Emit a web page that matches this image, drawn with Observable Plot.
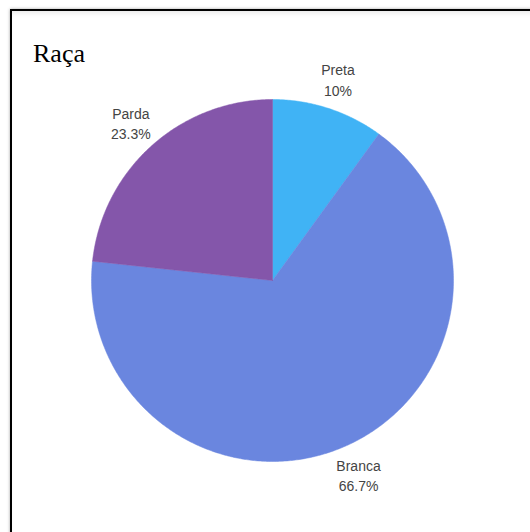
<!DOCTYPE html>
<html>
<head>
<meta charset="utf-8">
<script src="https://cdn.jsdelivr.net/npm/d3@7"></script>
<script src="https://cdn.jsdelivr.net/npm/@observablehq/plot@0.6"></script>
<style>
  html, body { margin: 0; padding: 0; background: #fff; width: 530px; height: 532px; overflow: hidden; }
  #frame { position: absolute; left: 10px; top: 9px; width: 700px; height: 700px;
           border-top: 2px solid #000; border-left: 2px solid #000;
           box-shadow: 0 0 3px rgba(0,0,0,0.35), inset 0 5px 6px -4px rgba(0,0,0,0.12); }
  #title { position: absolute; left: 33px; top: 41px; font-family: "Liberation Serif", "DejaVu Serif", serif;
           font-size: 26px; color: #000; line-height: 1; }
  #chart { position: absolute; left: 0; top: 0; }
</style>
</head>
<body>
<div id="frame"></div>
<div id="chart"></div>
<div id="title">Raça</div>
<script>
// Data
const categories = ["Preta", "Branca", "Parda"];
const values = [10, 66.7, 23.3];
const labels = ["10%", "66.7%", "23.3%"];
const colors = ["#40b3f5", "#6a86df", "#8456aa"];

// Geometry derived from the data (pie slices, clockwise from 12 o'clock)
const radius = 181;
const labelRadius = 212;
const total = d3.sum(values);
const slicePoints = [];
const labelRows = [];
let start = 0;
categories.forEach((name, i) => {
  const a0 = start, a1 = start + values[i] / total * 2 * Math.PI;
  slicePoints.push({name, x: 0, y: 0});
  const n = Math.max(2, Math.ceil((a1 - a0) / (Math.PI / 360)));
  for (let k = 0; k <= n; k++) {
    const a = a0 + (a1 - a0) * k / n;
    slicePoints.push({name, x: radius * Math.sin(a), y: radius * Math.cos(a)});
  }
  slicePoints.push({name, x: 0, y: 0});
  const am = (a0 + a1) / 2;
  labelRows.push({name, text: name + "\n" + labels[i], x: labelRadius * Math.sin(am), y: labelRadius * Math.cos(am)});
  start = a1;
});

const chart = Plot.plot({
  width: 530,
  height: 532,
  margin: 0,
  x: {domain: [-272, 258], axis: null},
  y: {domain: [-252, 280], axis: null},
  color: {domain: categories, range: colors},
  style: {background: "transparent", overflow: "visible"},
  marks: [
    Plot.line(slicePoints, {x: "x", y: "y", z: "name", fill: "name", stroke: "name", strokeWidth: 0.5, curve: "linear"}),
    Plot.text(labelRows, {x: "x", y: "y", text: "text", fill: "#444", fontSize: 14,
      fontFamily: "Liberation Sans, Arial, sans-serif", lineHeight: 1.45, textAnchor: "middle"})
  ]
});
document.getElementById("chart").appendChild(chart);
</script>
</body>
</html>
